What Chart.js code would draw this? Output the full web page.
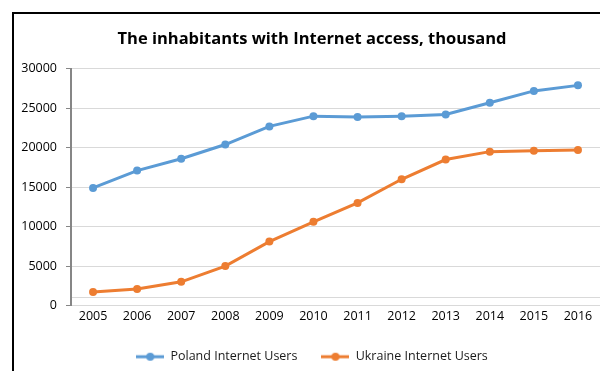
<!DOCTYPE html>
<html>
<head>
<meta charset="utf-8">
<script src="https://cdn.jsdelivr.net/npm/chart.js@4/dist/chart.umd.min.js"></script>
<style>
  html, body { margin: 0; padding: 0; background: #fff; }
  body { width: 600px; height: 371px; overflow: hidden; }
  #chart { display: block; }
</style>
</head>
<body>
<canvas id="chart" width="610" height="371"></canvas>
<script>
const years = ['2005', '2006', '2007', '2008', '2009', '2010', '2011', '2012', '2013', '2014', '2015', '2016'];
const polandUsers = [14900, 17100, 18600, 20400, 22700, 24000, 23900, 24000, 24200, 25700, 27200, 27900];
const ukraineUsers = [1700, 2100, 3000, 5000, 8100, 10600, 13000, 16000, 18500, 19500, 19600, 19700];
const yTicks = [0, 5000, 10000, 15000, 20000, 25000, 30000];
const extraGrid = [1000];

const BLUE = '#5b9bd5';
const ORANGE = '#ed7d31';
const FONT = "'Open Sans', sans-serif";

function legendIcon(color) {
    const c = document.createElement('canvas');
    c.width = 28; c.height = 10;
    const g = c.getContext('2d');
    g.strokeStyle = color;
    g.lineWidth = 3;
    g.beginPath(); g.moveTo(0, 5); g.lineTo(28, 5); g.stroke();
    g.fillStyle = color;
    g.beginPath(); g.arc(14, 5, 4, 0, Math.PI * 2); g.fill();
    return c;
}
const icons = [legendIcon(BLUE), legendIcon(ORANGE)];

// outline of the chart box (left and top edges, the rest is cropped off)
const chartFrame = {
    id: 'chartFrame',
    afterDraw(chart) {
        const g = chart.ctx;
        g.save();
        g.strokeStyle = '#000';
        g.lineWidth = 2;
        g.beginPath();
        g.moveTo(13, chart.height);
        g.lineTo(13, 13);
        g.lineTo(chart.width, 13);
        g.stroke();
        g.restore();
    },
};

new Chart(document.getElementById('chart'), {
    type: 'line',
    data: {
        labels: years,
        datasets: [{
            label: 'Poland Internet Users',
            data: polandUsers,
            borderColor: BLUE,
            backgroundColor: BLUE,
            borderWidth: 3,
            pointRadius: 4,
            pointBorderWidth: 0,
            tension: 0,
        }, {
            label: 'Ukraine Internet Users',
            data: ukraineUsers,
            borderColor: ORANGE,
            backgroundColor: ORANGE,
            borderWidth: 3,
            pointRadius: 4,
            pointBorderWidth: 0,
            tension: 0,
        }],
    },
    plugins: [chartFrame],
    options: {
        responsive: false,
        animation: false,
        layout: { padding: { left: 14, right: 0, top: 29, bottom: -2 } },
        plugins: {
            title: {
                display: true,
                text: 'The inhabitants with Internet access, thousand',
                color: '#000',
                font: { family: FONT, size: 16.5, weight: 'bold' },
                padding: { top: 0, bottom: 20 },
            },
            legend: {
                position: 'bottom',
                labels: {
                    usePointStyle: true,
                    pointStyleWidth: 28,
                    font: { family: FONT, size: 12.5 },
                    color: '#1a1a1a',
                    padding: 24,
                    generateLabels: (chart) => Chart.defaults.plugins.legend.labels.generateLabels(chart)
                        .map((l, i) => ({ ...l, pointStyle: icons[i] })),
                },
            },
            tooltip: { enabled: false },
        },
        scales: {
            x: {
                offset: true,
                grid: { display: false, drawTicks: false },
                border: { display: false },
                ticks: { font: { family: FONT, size: 12.5 }, color: '#000', padding: 3 },
            },
            y: {
                min: 0,
                max: 30000,
                afterBuildTicks: (scale) => {
                    scale.ticks = yTicks.concat(extraGrid).sort((a, b) => a - b).map((v) => ({ value: v }));
                },
                afterFit: (scale) => { scale.width = 57; },
                grid: {
                    color: '#d9d9d9',
                    tickLength: 5,
                    tickColor: (ctx) => extraGrid.includes(ctx.tick && ctx.tick.value) ? 'rgba(0,0,0,0)' : '#868686',
                },
                border: { color: '#868686', width: 2 },
                ticks: {
                    font: { family: FONT, size: 12.5 },
                    color: '#000',
                    padding: 9,
                    callback: (v) => extraGrid.includes(v) ? '' : String(v),
                },
            },
            // empty spacer on the right so the title and legend centre like the original
            spacer: {
                type: 'linear',
                position: 'right',
                display: true,
                grid: { display: false, drawTicks: false },
                border: { display: false },
                ticks: { display: false },
                afterFit: (scale) => { scale.width = 10; },
            },
        },
    },
});
</script>
</body>
</html>
